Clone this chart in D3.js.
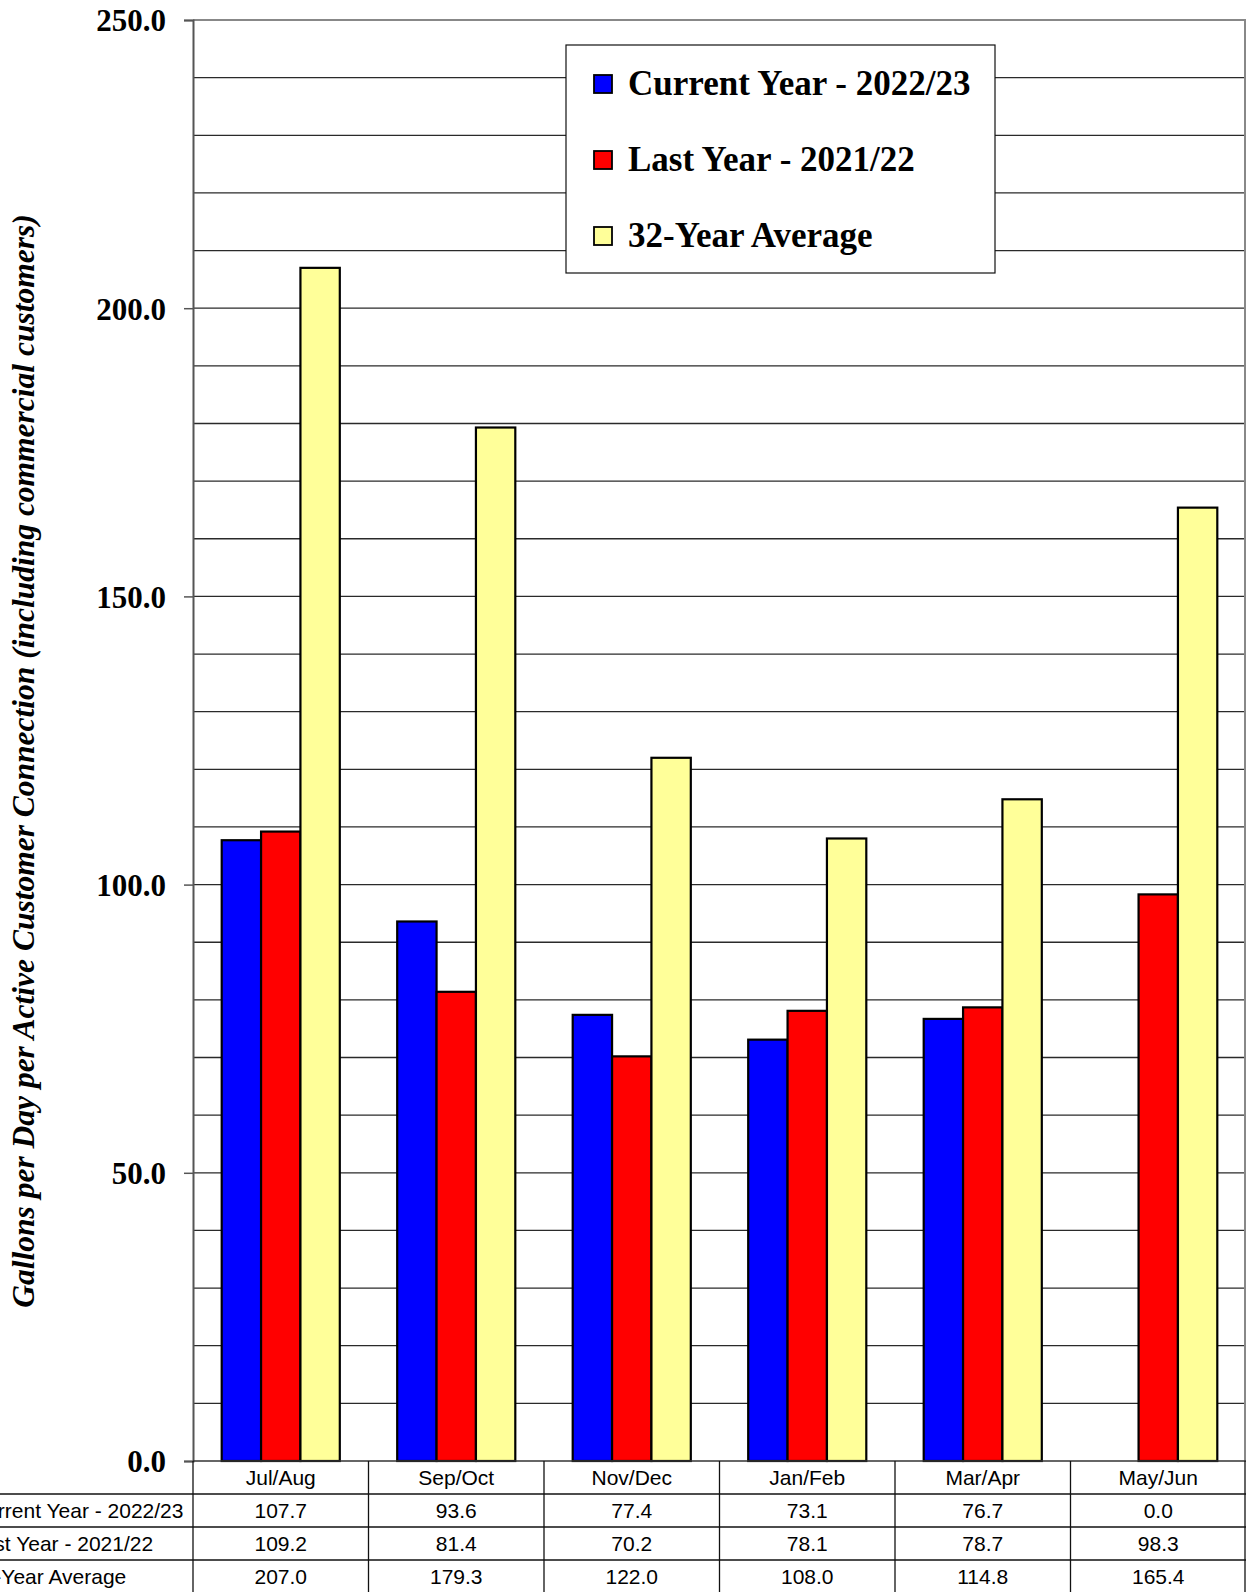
<!DOCTYPE html>
<html>
<head>
<meta charset="utf-8">
<script src="https://cdn.jsdelivr.net/npm/d3@7/dist/d3.min.js"></script>
<style>
  body { margin: 0; background: #fff; }
  svg { display: block; }
</style>
</head>
<body>
<div id="graphicContainer"></div>
<script>
var categories = ["Jul/Aug", "Sep/Oct", "Nov/Dec", "Jan/Feb", "Mar/Apr", "May/Jun"];
var seriesNames = ["Current Year - 2022/23", "Last Year - 2021/22", "32-Year Average"];
var currentYear = [107.7, 93.6, 77.4, 73.1, 76.7, 0.0];
var lastYear = [109.2, 81.4, 70.2, 78.1, 78.7, 98.3];
var average32 = [207.0, 179.3, 122.0, 108.0, 114.8, 165.4];
var yTicks = [0, 50, 100, 150, 200, 250];
var yTitle = "Gallons per Day per Active Customer Connection (including commercial customers)";

var colors = ["#0000ff", "#ff0000", "#ffff99"];
var seriesValues = [currentYear, lastYear, average32];

var width = 1247, height = 1592;
var margin = { top: 20, right: 1, bottom: 131, left: 193 };
var plotW = width - margin.left - margin.right;
var plotH = height - margin.top - margin.bottom;
var rowH = 33;

var svg = d3.select("#graphicContainer").append("svg")
  .attr("width", width).attr("height", height);

var g = svg.append("g").attr("transform", "translate(" + margin.left + "," + margin.top + ")");

var x = d3.scaleBand().domain(categories).range([0, plotW]).padding(0);
var xs = d3.scaleBand().domain(seriesNames).range([28.7, x.bandwidth() - 28.7]).padding(0);
var y = d3.scaleLinear().domain([0, 250]).range([plotH, 0]);

// gridlines every 10
var gridVals = d3.range(10, 250, 10);
g.append("g").attr("class", "grid")
  .selectAll("line").data(gridVals).enter().append("line")
  .attr("x1", 0).attr("x2", plotW)
  .attr("y1", function (d) { return y(d); }).attr("y2", function (d) { return y(d); })
  .attr("stroke", "#2a2a2a").attr("stroke-width", 1.3);

// top and right border
g.append("line").attr("x1", 0).attr("x2", plotW).attr("y1", y(250)).attr("y2", y(250))
  .attr("stroke", "#888").attr("stroke-width", 2);
g.append("line").attr("x1", plotW - 1).attr("x2", plotW - 1).attr("y1", 0).attr("y2", plotH)
  .attr("stroke", "#888").attr("stroke-width", 2);

// bars
var data = [];
categories.forEach(function (c, i) {
  seriesNames.forEach(function (s, j) {
    data.push({ cat: c, series: s, value: seriesValues[j][i], color: colors[j] });
  });
});

g.selectAll(".bar").data(data.filter(function (d) { return d.value > 0; }))
  .enter().append("rect").attr("class", "bar")
  .attr("x", function (d) { return x(d.cat) + xs(d.series); })
  .attr("y", function (d) { return y(d.value); })
  .attr("width", xs.bandwidth())
  .attr("height", function (d) { return y(0) - y(d.value); })
  .attr("fill", function (d) { return d.color; })
  .attr("stroke", "#000").attr("stroke-width", 2.2);

// y axis
var yAxis = d3.axisLeft(y).tickValues(yTicks).tickSize(9).tickFormat(d3.format(".1f"));
var ya = g.append("g").attr("class", "y").call(yAxis);
ya.select(".domain").attr("stroke", "#555").attr("stroke-width", 2);
ya.selectAll(".tick line").attr("stroke", "#555").attr("stroke-width", 1.5);
ya.selectAll(".tick text")
  .attr("x", -27).attr("dy", "0.35em")
  .style("font-family", "'Liberation Serif', 'Times New Roman', serif")
  .style("font-weight", "bold").style("font-size", "31px").attr("fill", "#000");

// x axis baseline
g.append("line").attr("x1", 0).attr("x2", plotW).attr("y1", plotH).attr("y2", plotH)
  .attr("stroke", "#333").attr("stroke-width", 1.5);

// y title
svg.append("text")
  .attr("transform", "translate(34," + 761 + ") rotate(-90)")
  .attr("text-anchor", "middle")
  .style("font-family", "'Liberation Serif', 'Times New Roman', serif")
  .style("font-weight", "bold").style("font-style", "italic").style("font-size", "31.5px")
  .text(yTitle);

// data table
var tbl = g.append("g").attr("class", "table").attr("transform", "translate(0," + plotH + ")");
var tblFont = "'Liberation Sans', Arial, sans-serif";
[1, 2, 3].forEach(function (r) {
  tbl.append("line").attr("x1", -margin.left).attr("x2", plotW)
    .attr("y1", r * rowH).attr("y2", r * rowH)
    .attr("stroke", "#111").attr("stroke-width", 1.3);
});
var colEdges = categories.map(function (c) { return x(c); }).concat([plotW - 1]);
tbl.selectAll(".vline").data(colEdges).enter().append("line")
  .attr("class", "vline")
  .attr("x1", function (d) { return d; }).attr("x2", function (d) { return d; })
  .attr("y1", 0).attr("y2", 4 * rowH + 5)
  .attr("stroke", "#111").attr("stroke-width", 1.3);

tbl.selectAll(".catLabel").data(categories).enter().append("text")
  .attr("class", "catLabel")
  .attr("x", function (d) { return x(d) + x.bandwidth() / 2; })
  .attr("y", 24).attr("text-anchor", "middle")
  .style("font-family", tblFont).style("font-size", "21px")
  .text(function (d) { return d; });

seriesNames.forEach(function (s, j) {
  var rowY = (j + 1) * rowH + 24;
  tbl.append("text").attr("x", -margin.left - 29).attr("y", rowY)
    .style("font-family", tblFont).style("font-size", "21px").text(s);
  tbl.selectAll(".val" + j).data(seriesValues[j]).enter().append("text")
    .attr("class", "val" + j)
    .attr("x", function (d, i) { return x(categories[i]) + x.bandwidth() / 2; })
    .attr("y", rowY).attr("text-anchor", "middle")
    .style("font-family", tblFont).style("font-size", "21px")
    .text(function (d) { return d3.format(".1f")(d); });
});

// legend
var legend = svg.append("g").attr("class", "legend");
legend.append("rect").attr("x", 566).attr("y", 45).attr("width", 429).attr("height", 228)
  .attr("fill", "#fff").attr("stroke", "#111").attr("stroke-width", 1.2);
seriesNames.forEach(function (s, j) {
  var cy = 84 + j * 76;
  legend.append("rect").attr("x", 594).attr("y", cy - 9).attr("width", 18).attr("height", 18)
    .attr("fill", colors[j]).attr("stroke", "#000").attr("stroke-width", 1.8);
  legend.append("text").attr("x", 628).attr("y", cy + 11)
    .style("font-family", "'Liberation Serif', 'Times New Roman', serif")
    .style("font-weight", "bold").style("font-size", "35px")
    .text(s);
});
</script>
</body>
</html>
